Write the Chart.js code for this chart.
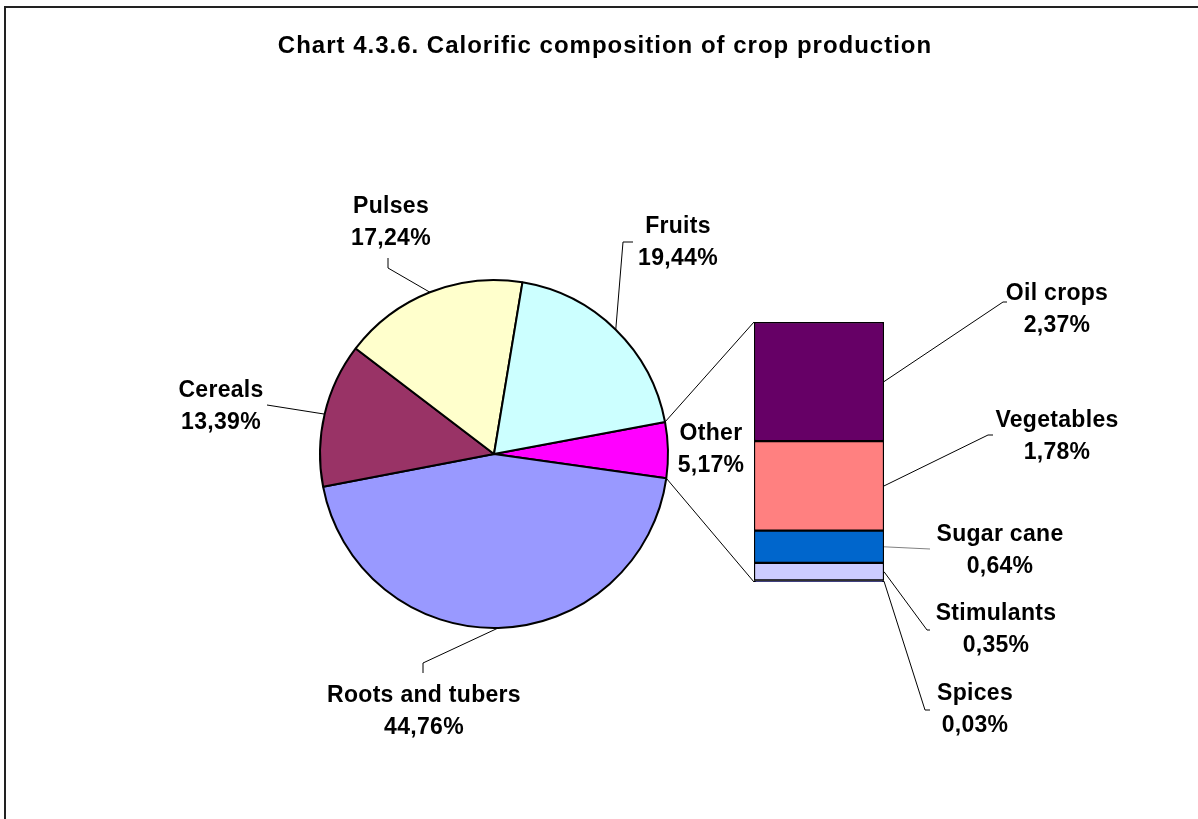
<!doctype html>
<html lang="en">
<head>
<meta charset="UTF-8" />
<title>Calorific composition of crop production</title>
<script src="https://cdn.jsdelivr.net/npm/chart.js"></script>
<style>
  body { margin: 0; background: #fff; }
  #wrap { position: relative; width: 1198px; height: 819px; overflow: hidden; }
  #frame {
    position: absolute; left: 4px; top: 6px; right: -10px; bottom: -10px;
    border-top: 2px solid #222; border-left: 2px solid #222;
  }
  canvas { position: absolute; left: 0; top: 0; }
</style>
</head>
<body>
<div id="wrap">
  <div id="frame"></div>
  <canvas id="pieChart" width="1198" height="819"></canvas>
  <canvas id="barChart" width="1198" height="819"></canvas>
</div>
<script>
const titleText = "Chart 4.3.6. Calorific composition of crop production";

// main pie, clockwise starting from the "Other" slice
const pieLabels = ["Other", "Roots and tubers", "Cereals", "Pulses", "Fruits"];
const pieValues = [5.17, 44.76, 13.39, 17.24, 19.44];
const pieColors = ["#FF00FF", "#9999FF", "#993366", "#FFFFCC", "#CCFFFF"];

// breakdown of "Other", top to bottom of the bar
const barLabels = ["Oil crops", "Vegetables", "Sugar cane", "Stimulants", "Spices"];
const barValues = [2.37, 1.78, 0.64, 0.35, 0.03];
const barColors = ["#660066", "#FF8080", "#0066CC", "#CCCCFF", "#000080"];

const barTotal = barValues.reduce((a, b) => a + b, 0);

const TITLE_FONT = 'bold 24px Arial, "Liberation Sans", sans-serif';
const FONT = 'bold 23px Arial, "Liberation Sans", sans-serif';
const LINE_GAP = 32;

// label text positions (centre x, first baseline) and leader elbows
const pieLabelPos = [
  { x: 711, y: 440, leader: null },
  { x: 424, y: 702, leader: [[423, 673], [423, 663]] },
  { x: 221, y: 397, leader: [[267, 405]] },
  { x: 391, y: 213, leader: [[388, 258], [388, 268]] },
  { x: 678, y: 233, leader: [[633, 242], [623, 242]] }
];
const barLabelPos = [
  { x: 1057, y: 300, leader: [[1007, 302], [1003, 302]], color: "#000" },
  { x: 1057, y: 427, leader: [[993, 435], [988, 435]], color: "#000" },
  { x: 1000, y: 541, leader: [[930, 549]], color: "#808080" },
  { x: 996, y: 620, leader: [[930, 630], [927, 630]], color: "#000" },
  { x: 975, y: 700, leader: [[930, 710], [925, 710]], color: "#000" }
];

function fmt(v) {
  return v.toFixed(2).replace(".", ",") + "%";
}

function drawLabel(ctx, name, value, x, y) {
  ctx.font = FONT;
  ctx.letterSpacing = "0.3px";
  ctx.fillStyle = "#000";
  ctx.textAlign = "center";
  ctx.textBaseline = "alphabetic";
  ctx.fillText(name, x, y);
  ctx.fillText(fmt(value), x, y + LINE_GAP);
  ctx.letterSpacing = "0px";
}

function drawLeader(ctx, pts, ex, ey, color) {
  ctx.beginPath();
  ctx.strokeStyle = color || "#000";
  ctx.lineWidth = 1;
  ctx.moveTo(pts[0][0], pts[0][1]);
  for (let k = 1; k < pts.length; k++) ctx.lineTo(pts[k][0], pts[k][1]);
  ctx.lineTo(ex, ey);
  ctx.stroke();
}

const pieLabelPlugin = {
  id: "pieLabels",
  afterDraw(chart) {
    const ctx = chart.ctx;
    ctx.save();
    ctx.font = TITLE_FONT;
    ctx.letterSpacing = "1px";
    ctx.fillStyle = "#000";
    ctx.textAlign = "center";
    ctx.fillText(titleText, 605, 53);
    ctx.letterSpacing = "0px";

    chart.getDatasetMeta(0).data.forEach((arc, i) => {
      const p = pieLabelPos[i];
      const mid = (arc.startAngle + arc.endAngle) / 2;
      const ax = arc.x + Math.cos(mid) * arc.outerRadius;
      const ay = arc.y + Math.sin(mid) * arc.outerRadius;
      if (p.leader) drawLeader(ctx, p.leader, ax, ay);
      drawLabel(ctx, pieLabels[i], pieValues[i], p.x, p.y);
    });
    ctx.restore();
  }
};

const pieChart = new Chart(document.getElementById("pieChart"), {
  type: "pie",
  data: {
    labels: pieLabels,
    datasets: [{
      data: pieValues,
      backgroundColor: pieColors,
      borderColor: "#000",
      borderWidth: 2
    }]
  },
  options: {
    responsive: false,
    animation: false,
    rotation: 79.4,
    radius: 174,
    layout: { padding: { left: 314, right: 524, top: 274, bottom: 185 } },
    plugins: { legend: { display: false }, tooltip: { enabled: false } }
  },
  plugins: [pieLabelPlugin]
});

const barLabelPlugin = {
  id: "barLabels",
  afterDraw(chart) {
    const ctx = chart.ctx;
    ctx.save();

    // connectors from the "Other" slice to the bar
    const other = pieChart.getDatasetMeta(0).data[0];
    const topBar = chart.getDatasetMeta(chart.data.datasets.length - 1).data[0];
    const botBar = chart.getDatasetMeta(0).data[0];
    const r = other.outerRadius;
    const sx = other.x + Math.cos(other.startAngle) * r;
    const sy = other.y + Math.sin(other.startAngle) * r;
    const ex = other.x + Math.cos(other.endAngle) * r;
    const ey = other.y + Math.sin(other.endAngle) * r;
    ctx.strokeStyle = "#000";
    ctx.lineWidth = 1;
    ctx.beginPath();
    ctx.moveTo(sx, sy);
    ctx.lineTo(topBar.x - topBar.width / 2, topBar.y);
    ctx.moveTo(ex, ey);
    ctx.lineTo(botBar.x - botBar.width / 2, botBar.base);
    ctx.stroke();

    chart.data.datasets.forEach((ds, d) => {
      const bar = chart.getDatasetMeta(d).data[0];
      const i = barLabels.indexOf(ds.label);
      const p = barLabelPos[i];
      const bx = bar.x + bar.width / 2;
      const by = (bar.y + bar.base) / 2;
      drawLeader(ctx, p.leader, bx, by, p.color);
      drawLabel(ctx, barLabels[i], barValues[i], p.x, p.y);
    });
    ctx.restore();
  }
};

new Chart(document.getElementById("barChart"), {
  type: "bar",
  data: {
    labels: [""],
    datasets: barLabels.map((label, i) => ({
      label: label,
      data: [barValues[i]],
      backgroundColor: barColors[i],
      borderColor: "#000",
      borderWidth: 1.5,
      borderSkipped: false
    })).reverse()
  },
  options: {
    responsive: false,
    animation: false,
    layout: { padding: { left: 754, right: 314, top: 322, bottom: 237 } },
    datasets: { bar: { categoryPercentage: 1, barPercentage: 1 } },
    scales: {
      x: { display: false, stacked: true },
      y: { display: false, stacked: true, min: 0, max: barTotal }
    },
    plugins: { legend: { display: false }, tooltip: { enabled: false } }
  },
  plugins: [barLabelPlugin]
});
</script>
</body>
</html>
